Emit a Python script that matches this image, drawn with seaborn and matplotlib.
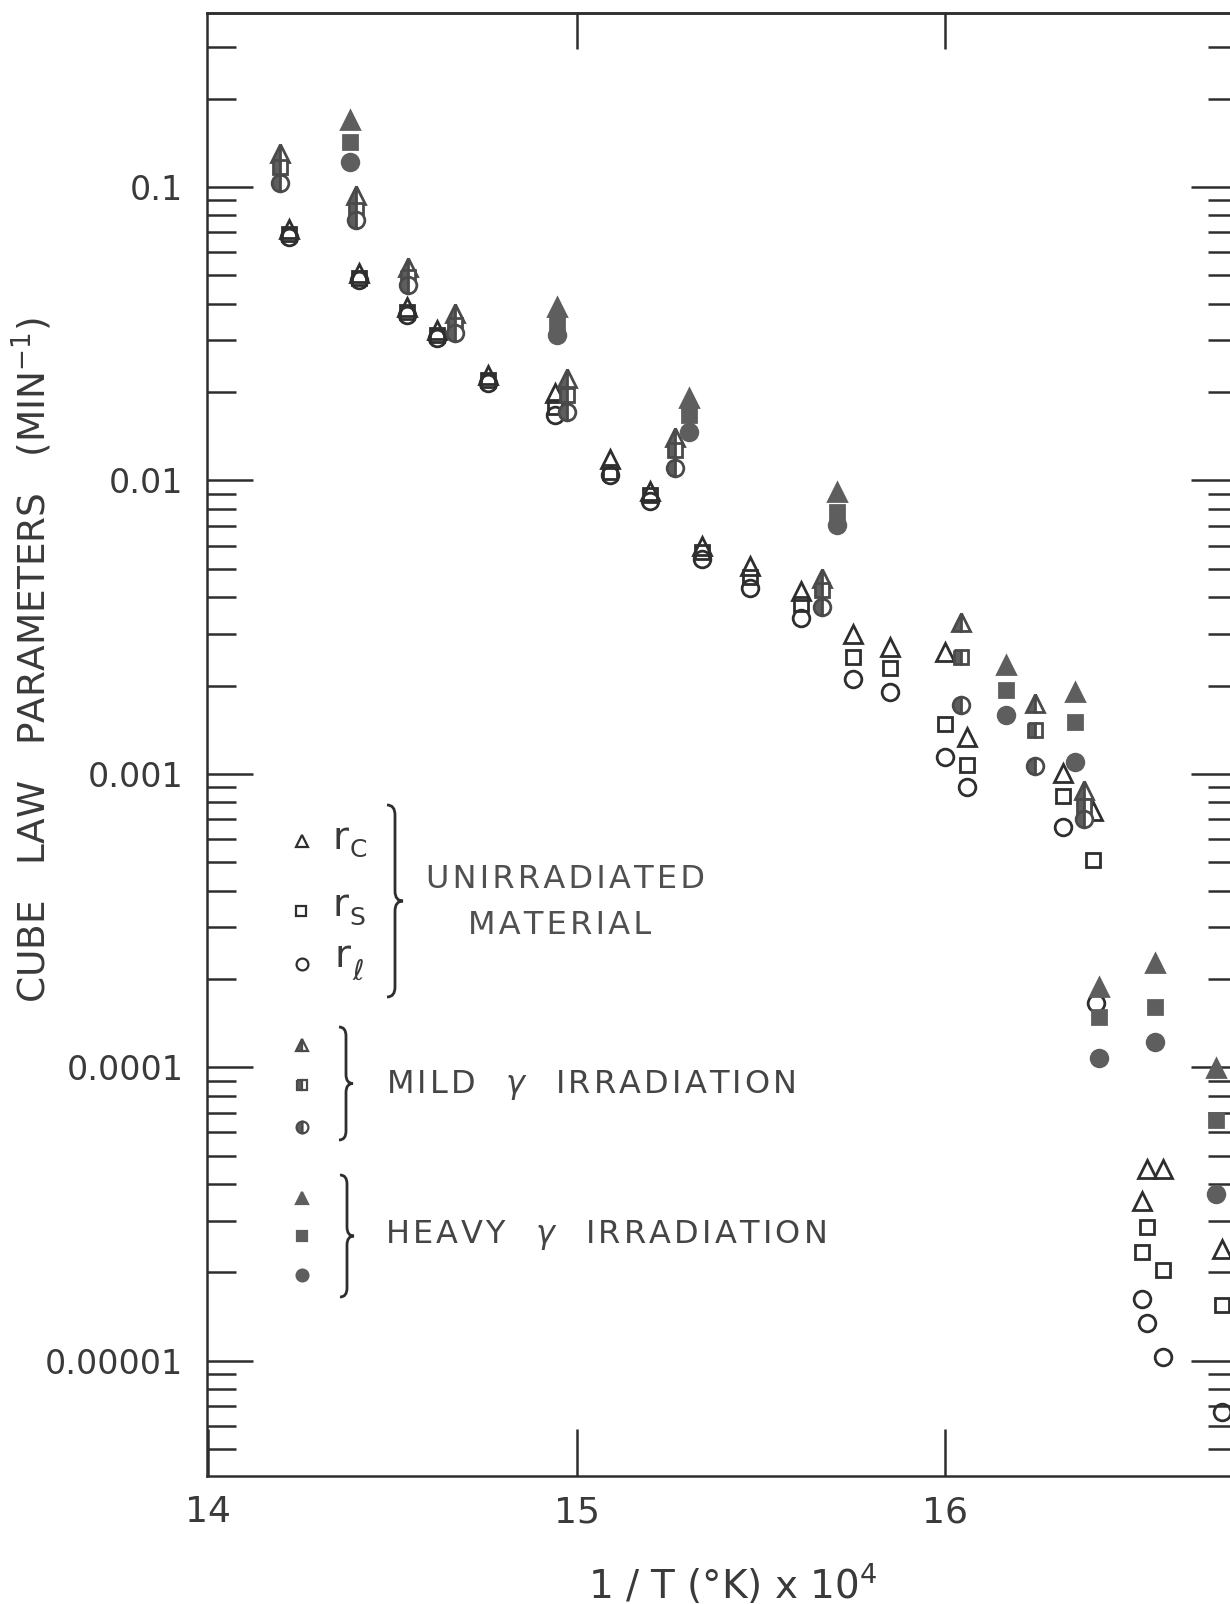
import matplotlib
matplotlib.use('Agg')
import matplotlib.pyplot as plt
import matplotlib.transforms as mtransforms
from matplotlib.lines import Line2D
from matplotlib.path import Path
from matplotlib.patches import PathPatch
import numpy as np
import seaborn as sns

nan = np.nan

# unirradiated material (open symbols), x = 1/T x 10^4
unirr_x = [14.22, 14.41, 14.54, 14.62, 14.76, 14.94, 15.09, 15.20, 15.34, 15.47, 15.61,
           15.75, 15.85, 16.00, 16.06, 16.32, 16.40, 16.41, 16.535, 16.547, 16.59, 16.752]
unirr_rc = [0.072, 0.051, 0.039, 0.0326, 0.0229, 0.0199, 0.0118, 0.0092, 0.0060, 0.0051, 0.0042,
            0.0030, 0.0027, 0.0026, 0.00134, 0.00101, 0.00075, nan, 3.5e-5, 4.5e-5, 4.5e-5, 2.4e-5]
unirr_rs = [0.069, 0.049, 0.0375, 0.0313, 0.0220, 0.0178, 0.0107, 0.0089, 0.0057, 0.0047, 0.0038,
            0.0025, 0.0023, 0.00148, 0.00107, 0.00084, 0.00051, nan, 2.35e-5, 2.86e-5, 2.04e-5, 1.55e-5]
unirr_rl = [0.0676, 0.048, 0.0366, 0.0306, 0.0214, 0.0167, 0.0104, 0.0085, 0.0054, 0.0043, 0.0034,
            0.0021, 0.0019, 0.00114, 0.0009, 0.00066, nan, 0.000166, 1.63e-5, 1.35e-5, 1.03e-5, 6.7e-6]

# mild gamma irradiation (half filled)
mild_x = [14.195, 14.40, 14.543, 14.67, 14.974, 15.268, 15.666, 16.043, 16.244, 16.377]
mild_rc = [0.131, 0.094, 0.0534, 0.0372, 0.0223, 0.0141, 0.00466, 0.0033, 0.00175, 0.00088]
mild_rs = [0.117, 0.0835, 0.0494, 0.0339, 0.0195, 0.0127, 0.00424, 0.00251, 0.00141, 0.00078]
mild_rl = [0.103, 0.0772, 0.0464, 0.0319, 0.0171, 0.0110, 0.00371, 0.00172, 0.00106, 0.00070]

# heavy gamma irradiation (filled)
heavy_x = [14.385, 14.947, 15.305, 15.707, 16.165, 16.353, 16.418, 16.57, 16.735]
heavy_rc = [0.169, 0.039, 0.0191, 0.0091, 0.00235, 0.0019, 0.000188, 0.000227, 9.95e-5]
heavy_rs = [0.142, 0.0347, 0.0167, 0.0078, 0.00193, 0.0015, 0.000149, 0.00016, 6.6e-5]
heavy_rl = [0.122, 0.0313, 0.0146, 0.00705, 0.00159, 0.0011, 0.000108, 0.000122, 3.7e-5]

y_ticks = [1e-5, 1e-4, 1e-3, 1e-2, 1e-1]
y_tick_labels = ['0.00001', '0.0001', '0.001', '0.01', '0.1']
x_ticks = [14, 15, 16]

W, H = 1230, 1604
INK = '#2e2e2e'
GREY = '#5e5e5e'
TXT = '#3a3a3a'

sns.set_style('white')
plt.rcParams['font.family'] = ['DejaVu Sans']

fig = plt.figure(figsize=(W / 100, H / 100), dpi=100)
ax = fig.add_axes([207 / W, 1 - 1476 / H, (1237 - 207) / W, (1476 - 13) / H])
ax.set_yscale('log')

# image-pixel transform for the hand lettered key
px = mtransforms.Affine2D().scale(1 / W, -1 / H).translate(0, 1) + fig.transFigure

SIZES = {'^': 13, 's': 10, 'o': 12}


def draw(x, y, marker, face, edge, fill='full', alt='none'):
    sns.lineplot(x=x, y=y, ax=ax, estimator=None, sort=False, linestyle='',
                 marker=marker, markersize=SIZES[marker], markerfacecolor=face,
                 markeredgecolor=edge, markeredgewidth=2.0, fillstyle=fill,
                 markerfacecoloralt=alt)


for ys, m in [(unirr_rc, '^'), (unirr_rs, 's'), (unirr_rl, 'o')]:
    draw(unirr_x, ys, m, 'none', INK)
for ys, m in [(mild_rc, '^'), (mild_rs, 's'), (mild_rl, 'o')]:
    draw(mild_x, ys, m, GREY, '#4a4a4a', fill='left', alt='white')
for ys, m in [(heavy_rc, '^'), (heavy_rs, 's'), (heavy_rl, 'o')]:
    draw(heavy_x, ys, m, GREY, GREY)

ax.set_xlim(13.997, 16.792)
ax.set_ylim(4.05e-6, 0.3915)
ax.set_xticks(x_ticks)
ax.set_xticklabels([str(t) for t in x_ticks])
ax.set_yticks(y_ticks)
ax.set_yticklabels(y_tick_labels)
ax.set_xlabel('')
ax.set_ylabel('')

ax.yaxis.set_minor_locator(matplotlib.ticker.LogLocator(base=10, subs=np.arange(2, 10), numticks=20))
ax.yaxis.set_minor_formatter(matplotlib.ticker.NullFormatter())
ax.xaxis.set_minor_locator(matplotlib.ticker.NullLocator())

ax.tick_params(axis='x', which='major', direction='in', length=34, width=1.8,
               color=INK, labelsize=26, labelcolor=TXT, pad=14, bottom=True, top=False)
ax.tick_params(axis='y', which='major', direction='in', length=33, width=1.8,
               color=INK, labelsize=24, labelcolor=TXT, pad=17, left=True, right=True)
ax.tick_params(axis='y', which='minor', direction='in', length=21, width=1.8,
               color=INK, left=True, right=True)

for sp in ax.spines.values():
    sp.set_color(INK)
    sp.set_linewidth(1.8)

top = ax.secondary_xaxis('top')
top.set_xticks([15, 16])
top.tick_params(direction='in', length=26, width=1.8, color=INK, top=True, labeltop=False)
top.spines['top'].set_color(INK)
top.spines['top'].set_linewidth(1.8)


def T(x, y, s, **kw):
    kw.setdefault('color', TXT)
    kw.setdefault('ha', 'center')
    kw.setdefault('va', 'center')
    fig.text(x / W, 1 - y / H, s, **kw)


def spaced(s):
    return '\u200a'.join(s)


T(32, 660, 'CUBE   LAW   PARAMETERS   (MIN$^{-1}$)', rotation=90, fontsize=27)
T(733, 1584, '1 / T (°K) x 10$^{4}$', fontsize=28)


def key_mark(x, y, marker, ms, face, edge, fill='full', alt='none'):
    fig.add_artist(Line2D([x], [y], transform=px, marker=marker, markersize=ms,
                          markerfacecolor=face, markeredgecolor=edge, markeredgewidth=1.6,
                          fillstyle=fill, markerfacecoloralt=alt, linestyle=''))


def brace(xc, y0, y1, w, r):
    ym = (y0 + y1) / 2
    verts = [(xc - w, y0), (xc, y0), (xc, y0 + r), (xc, ym - r), (xc, ym), (xc + w, ym),
             (xc, ym), (xc, ym + r), (xc, y1 - r), (xc, y1), (xc - w, y1)]
    codes = [Path.MOVETO, Path.CURVE3, Path.CURVE3, Path.LINETO, Path.CURVE3, Path.CURVE3,
             Path.CURVE3, Path.CURVE3, Path.LINETO, Path.CURVE3, Path.CURVE3]
    fig.add_artist(PathPatch(Path(verts, codes), transform=px, fill=False,
                             lw=2.0, edgecolor=INK))


# unirradiated key
key_mark(302, 841, '^', 8.5, 'none', INK)
key_mark(301, 911, 's', 6.5, 'none', INK)
key_mark(302, 964, 'o', 8.5, 'none', INK)
T(341, 838, 'r', fontsize=28)
T(358, 850, 'C', fontsize=18)
T(340, 905, 'r', fontsize=28)
T(357, 918, 'S', fontsize=18)
T(342, 956, 'r', fontsize=28)
T(358, 972, 'ℓ', fontsize=20, style='italic')
brace(395, 805, 997, 8, 10)
T(566, 880, spaced('UNIRRADIATED'), fontsize=23, color='#505050')
T(560, 925, spaced('MATERIAL'), fontsize=23, color='#505050')

# mild key
key_mark(302, 1045, '^', 8.5, GREY, '#4a4a4a', fill='left', alt='white')
key_mark(302, 1085, 's', 6.5, GREY, '#4a4a4a', fill='left', alt='white')
key_mark(302, 1127, 'o', 8.5, GREY, '#4a4a4a', fill='left', alt='white')
brace(346, 1027, 1140, 7, 9)
T(386, 1085, spaced('MILD') + '   $\\gamma$   ' + spaced('IRRADIATION'),
  fontsize=23, ha='left', color='#454545')

# heavy key
key_mark(302, 1198, '^', 8.5, GREY, GREY)
key_mark(302, 1236, 's', 6.5, GREY, GREY)
key_mark(302, 1275, 'o', 8.5, GREY, GREY)
brace(347, 1175, 1297, 7, 9)
T(385, 1235, spaced('HEAVY') + '   $\\gamma$   ' + spaced('IRRADIATION'),
  fontsize=23, ha='left', color='#454545')

fig.savefig('out.png', dpi=100)
